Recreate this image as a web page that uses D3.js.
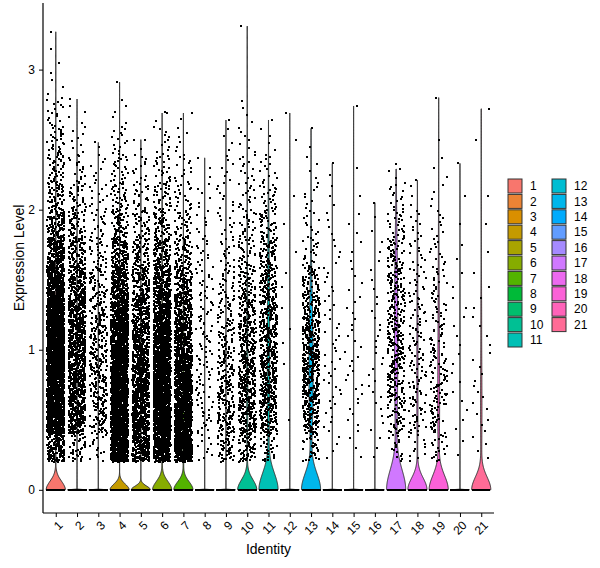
<!DOCTYPE html>
<html>
<head>
<meta charset="utf-8">
<script src="https://cdn.jsdelivr.net/npm/d3@7"></script>
<style>
  body { margin: 0; background: #fff; }
  text { font-family: "Liberation Sans", Arial, sans-serif; fill: #000; }
</style>
</head>
<body>
<svg id="chart" width="600" height="568"></svg>
<script>
// Cluster identities, used on the x axis and in the legend
const clusters = ["1", "2", "3", "4", "5", "6", "7", "8", "9", "10", "11",
                  "12", "13", "14", "15", "16", "17", "18", "19", "20", "21"];

// Lower edges of the expression bins (each bin is 0.2 wide)
const binEdges = [0, 0.2, 0.4, 0.6, 0.8, 1.0, 1.2, 1.4, 1.6, 1.8, 2.0,
                  2.2, 2.4, 2.6, 2.8, 3.0, 3.2];
const binWidth = 0.2;

// Cells with non-zero expression in each bin, one row per cluster
const nonzeroCounts = [
  [0, 150, 480, 600, 600, 540, 430, 300, 200, 110, 60, 42, 30, 16, 4, 2, 1],
  [0, 40, 170, 190, 190, 180, 165, 135, 90, 55, 32, 16, 8, 5, 0, 0, 0],
  [0, 15, 60, 70, 70, 62, 55, 45, 30, 20, 13, 8, 2, 0, 0, 0, 0],
  [0, 450, 520, 500, 420, 340, 260, 180, 110, 62, 38, 24, 14, 5, 1, 0, 0],
  [0, 230, 260, 260, 225, 190, 155, 105, 65, 38, 22, 12, 3, 0, 0, 0, 0],
  [0, 330, 470, 470, 420, 350, 270, 180, 100, 62, 38, 22, 11, 3, 0, 0, 0],
  [0, 440, 470, 420, 330, 240, 170, 105, 58, 34, 21, 13, 6, 2, 0, 0, 0],
  [0, 10, 17, 17, 17, 17, 16, 14, 12, 8, 6, 3, 0, 0, 0, 0, 0],
  [0, 50, 75, 65, 50, 40, 32, 24, 16, 12, 9, 7, 4, 1, 0, 0, 0],
  [0, 65, 110, 120, 110, 95, 80, 55, 35, 24, 16, 12, 7, 4, 0, 0, 1],
  [0, 32, 95, 110, 110, 100, 95, 80, 62, 40, 24, 12, 4, 1, 0, 0, 0],
  [0, 0, 1, 0, 1, 2, 1, 2, 1, 1, 1, 0, 1, 1, 0, 0, 0],
  [0, 32, 95, 120, 125, 110, 85, 48, 19, 12, 8, 4, 2, 0, 0, 0, 0],
  [0, 4, 6, 8, 8, 7, 6, 6, 5, 4, 3, 2, 0, 0, 0, 0, 0],
  [0, 3, 5, 6, 6, 5, 5, 4, 3, 3, 1, 1, 0, 1, 0, 0, 0],
  [0, 3, 4, 5, 5, 5, 4, 3, 3, 2, 1, 0, 0, 0, 0, 0, 0],
  [0, 16, 40, 55, 62, 62, 58, 54, 42, 23, 14, 4, 0, 0, 0, 0, 0],
  [0, 12, 23, 23, 23, 21, 18, 15, 12, 9, 3, 1, 0, 0, 0, 0, 0],
  [0, 19, 31, 31, 28, 22, 18, 15, 11, 8, 4, 3, 1, 1, 0, 0, 0],
  [0, 2, 3, 3, 3, 3, 3, 2, 2, 1, 1, 1, 0, 0, 0, 0, 0],
  [0, 4, 5, 5, 4, 3, 3, 2, 1, 1, 1, 0, 1, 1, 0, 0, 0]
];

// Cells with zero expression in each cluster (they shape the violin base)
const zeroCounts = [8248, 7230, 2550, 7159, 4572, 5535, 4288, 650, 2180, 1713, 1303,
                    300, 807, 400, 300, 250, 645, 411, 408, 200, 80];

// Highest expression value seen in each cluster
const topValues = [3.27, 2.79, 2.48, 2.91, 2.5, 2.69, 2.69, 2.37, 2.64, 3.31, 2.64,
                   2.69, 2.58, 2.33, 2.74, 2.05, 2.29, 2.21, 2.8, 2.33, 2.72];

const yTicks = [0, 1, 2, 3];

// ggplot-like hue palette (HCL in polar Luv, c = 100, l = 65)
function hueColor(h) {
    const L = 65, C = 100, Xn = 95.047, Yn = 100, Zn = 108.883;
    const u = C * Math.cos(h * Math.PI / 180), v = C * Math.sin(h * Math.PI / 180);
    const Y = Yn * Math.pow((L + 16) / 116, 3);
    const den = Xn + 15 * Yn + 3 * Zn;
    const up = u / (13 * L) + 4 * Xn / den, vp = v / (13 * L) + 9 * Yn / den;
    const X = 9 * Y * up / (4 * vp), Z = Y * (12 - 3 * up - 20 * vp) / (4 * vp);
    const lin = [3.240479 * X - 1.537150 * Y - 0.498535 * Z,
                 -0.969256 * X + 1.875992 * Y + 0.041556 * Z,
                 0.055648 * X - 0.204043 * Y + 1.057311 * Z].map(c => c / 100);
    const gam = c => c <= 0.0031308 ? 12.92 * c : 1.055 * Math.pow(c, 1 / 2.4) - 0.055;
    const rgb = lin.map(c => Math.round(255 * Math.max(0, Math.min(1, gam(c)))));
    return d3.rgb(rgb[0], rgb[1], rgb[2]).formatHex();
}

// Fixed horizontal jitter (like geom_jitter with a set seed), in [-0.4, 0.4]
function jitter(n) {
    let h = Math.imul(n, 0x9e3779b1) ^ 0x5bd1e995;
    h ^= h >>> 16;
    h = Math.imul(h, 0x85ebca6b);
    h ^= h >>> 13;
    h = Math.imul(h, 0xc2b2ae35);
    h ^= h >>> 16;
    return (h >>> 0) / 4294967296 * 0.8 - 0.4;
}

// Cells of each bin are spread evenly over the bin
function clusterPoints(ci) {
    let pts = [], k = 0;
    nonzeroCounts[ci].forEach((c, b) => {
        for (let j = 0; j < c; j++) {
            k++;
            pts.push({
                v: binEdges[b] + binWidth * (j + 0.5) / c,
                jx: jitter(ci * 100003 + k)
            });
        }
    });
    // the highest cell sits at the observed maximum
    pts[d3.maxIndex(pts, d => d.v)].v = topValues[ci];
    return pts;
}

// Kernel density as geom_violin does it (nrd0 bandwidth, trimmed, scaled to width)
function violinProfile(pts, n0, maxV) {
    const vals = pts.map(d => d.v);
    const all = vals.concat(new Array(n0).fill(0)).sort(d3.ascending);
    const iqr = d3.quantileSorted(all, 0.75) - d3.quantileSorted(all, 0.25);
    const lo = Math.min(d3.deviation(all), iqr / 1.34);
    // Seurat adds tiny noise, so a zero IQR gives an almost zero bandwidth
    const bw = lo > 0 ? 0.9 * lo * Math.pow(all.length, -0.2) : 1e-5;
    const grid = d3.range(512).map(i => maxV * i / 511);
    const dens = grid.map(g => {
        let s = n0 * Math.exp(-0.5 * (g / bw) * (g / bw));
        for (const v of vals) {
            const z = (g - v) / bw;
            if (z * z < 60) s += Math.exp(-0.5 * z * z);
        }
        return s;
    });
    const m = d3.max(dens);
    return grid.map((g, i) => ({ y: g, w: dens[i] / m }));
}

function makeChart() {
    const svg = d3.select("#chart");
    const colors = clusters.map((c, i) => hueColor(15 + i * 360 / 21));

    const scX = d3.scalePoint().domain(clusters).range([43, 494]).padding(0.6);
    const yMax = d3.max(topValues);
    const scY = d3.scaleLinear()
        .domain([-0.05 * yMax, yMax * 1.05])
        .range([513, 3]);
    const step = scX.step();

    // Violins first, then the jittered cells on top
    const gV = svg.append("g").attr("id", "violins");
    const gP = svg.append("g").attr("id", "points").attr("shape-rendering", "crispEdges");

    clusters.forEach((c, ci) => {
        const cx = scX(c);
        const pts = clusterPoints(ci);
        const prof = violinProfile(pts, zeroCounts[ci], topValues[ci]);
        const half = 0.45 * step;

        const area = d3.area()
            .x0(d => cx - d.w * half)
            .x1(d => cx + d.w * half)
            .y(d => scY(d.y));

        gV.append("path")
            .attr("d", area(prof))
            .attr("fill", colors[ci])
            .attr("stroke", "#333333")
            .attr("stroke-width", 1);

        // zero cells are jittered along the base too
        const zeros = d3.range(zeroCounts[ci]).map(k => ({
            v: 0, jx: jitter(ci * 100003 + 50000 + k)
        }));

        // snap to whole pixels and keep one square per pixel spot
        const seen = new Set();
        const cells = [];
        zeros.concat(pts).forEach(d => {
            const px = Math.round(cx + d.jx * step) - 1;
            const py = Math.round(scY(d.v)) - 1;
            const key = px + "," + py;
            if (!seen.has(key)) { seen.add(key); cells.push([px, py]); }
        });

        gP.append("g")
            .selectAll("rect")
            .data(cells).enter().append("rect")
            .attr("x", d => d[0])
            .attr("y", d => d[1])
            .attr("width", 2).attr("height", 2)
            .attr("fill", "#000");
    });

    // Axes
    const axY = svg.append("g")
        .attr("transform", "translate(43,0)")
        .call(d3.axisLeft(scY).tickValues(yTicks).tickSize(4).tickPadding(4)
            .tickFormat(d3.format("d")));
    axY.select(".domain").attr("d", "M0,3V513").attr("stroke", "#000").attr("stroke-width", 1.2);

    const axX = svg.append("g")
        .attr("transform", "translate(0,513)")
        .call(d3.axisBottom(scX).tickSize(4));
    axX.select(".domain").attr("d", "M43,0H494").attr("stroke", "#000").attr("stroke-width", 1.2);
    axX.selectAll(".tick text")
        .attr("text-anchor", "end")
        .attr("y", 0).attr("dy", "0.72em")
        .attr("transform", "translate(1,7) rotate(-45)");

    svg.selectAll(".tick line").attr("stroke", "#000");
    svg.selectAll(".tick text").attr("font-size", 12).attr("fill", "#000")
        .style("font-family", "'Liberation Sans', Arial, sans-serif");

    // Axis titles
    svg.append("text")
        .attr("x", 268.5).attr("y", 554)
        .attr("text-anchor", "middle").attr("font-size", 14)
        .text("Identity");
    svg.append("text")
        .attr("transform", "translate(24,258) rotate(-90)")
        .attr("text-anchor", "middle").attr("font-size", 14)
        .text("Expression Level");

    // Legend, two columns
    const leg = svg.append("g").attr("id", "legend")
        .selectAll("g")
        .data(clusters).enter().append("g")
        .attr("transform", (d, i) =>
            "translate(" + (508 + Math.floor(i / 11) * 44) + "," + (179 + (i % 11) * 15.4) + ")");
    leg.append("rect")
        .attr("width", 14).attr("height", 14)
        .attr("fill", (d, i) => colors[i])
        .attr("stroke", "#333333").attr("stroke-width", 1);
    leg.append("text")
        .attr("x", 22).attr("y", 7).attr("dy", "0.35em")
        .attr("font-size", 12)
        .text(d => d);
}

makeChart();
</script>
</body>
</html>
